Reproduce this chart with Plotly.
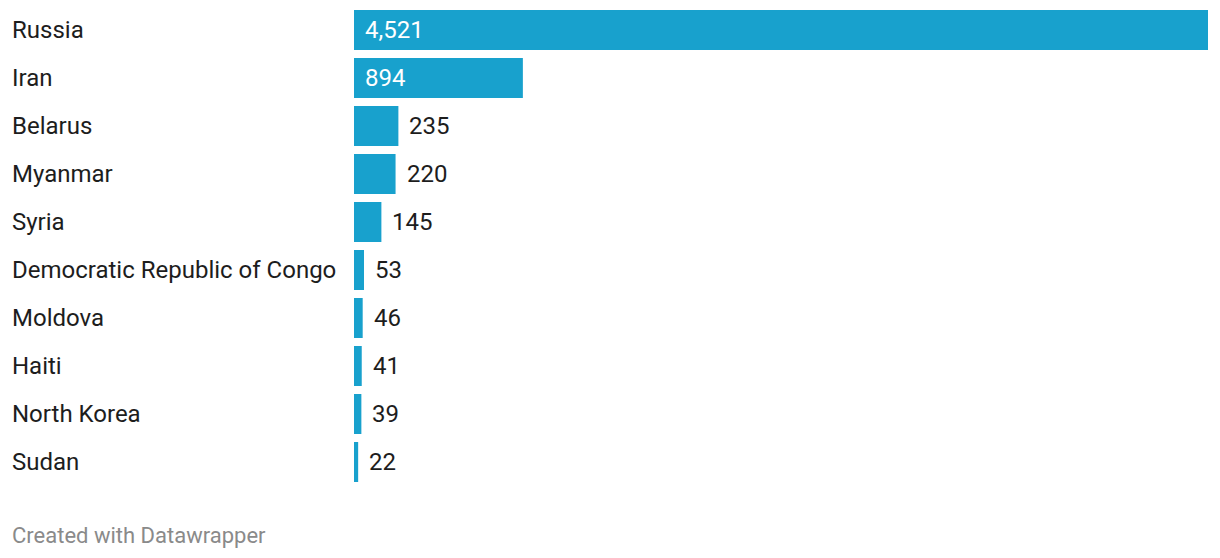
import plotly.graph_objects as go

countries = ["Russia", "Iran", "Belarus", "Myanmar", "Syria",
             "Democratic Republic of Congo", "Moldova", "Haiti", "North Korea", "Sudan"]
values = [4521, 894, 235, 220, 145, 53, 46, 41, 39, 22]

BAR_COLOR = "#18a1cd"
TEXT_COLOR = "#1d1d1d"
FONT = "Roboto"
FS = 24

W_PX, H_PX = 1220, 558
ML, MR, MT, MB = 354, 12, 6, 72
PW = W_PX - ML - MR
PH = H_PX - MT - MB

fig = go.Figure(go.Bar(
    x=values, y=countries, orientation="h",
    marker=dict(color=BAR_COLOR, line=dict(width=0)),
    hoverinfo="skip",
))

annotations = []
xmax = max(values)
for c, v in zip(countries, values):
    inside = v > xmax * 0.15
    annotations.append(dict(
        x=0 if inside else v, y=c, xref="x", yref="y",
        text=f"{v:,}", showarrow=False, xanchor="left", yanchor="middle",
        xshift=9,
        font=dict(family=FONT, size=FS, color="white" if inside else TEXT_COLOR),
    ))
    annotations.append(dict(
        x=(10 - ML) / PW, y=c, xref="paper", yref="y",
        text=c, showarrow=False, xanchor="left", yanchor="middle",
        font=dict(family=FONT, size=FS, color=TEXT_COLOR),
    ))

annotations.append(dict(
    x=(10 - ML) / PW, y=(MT + PH - 535) / PH, xref="paper", yref="paper",
    text="Created with Datawrapper", showarrow=False, xanchor="left", yanchor="middle",
    font=dict(family=FONT, size=22, color="#8a8a8a"),
))

fig.update_layout(
    width=W_PX, height=H_PX,
    margin=dict(l=ML, r=MR, t=MT, b=MB, pad=0),
    paper_bgcolor="white", plot_bgcolor="white",
    bargap=8 / 48,
    showlegend=False,
    xaxis=dict(range=[0, xmax], visible=False, fixedrange=True),
    yaxis=dict(autorange="reversed", visible=False, fixedrange=True),
    annotations=annotations,
)

fig.write_html("out.html", config={"displayModeBar": False})
